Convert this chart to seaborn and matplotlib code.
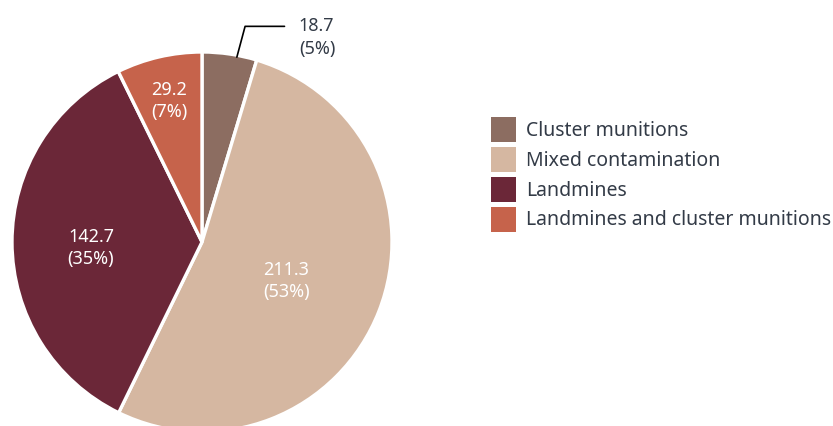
import numpy as np
import matplotlib
matplotlib.use("Agg")
import matplotlib.pyplot as plt
import matplotlib.patches as mpatches
import seaborn as sns

# Data
categories = ["Cluster munitions", "Mixed contamination", "Landmines",
              "Landmines and cluster munitions"]
values = [18.7, 211.3, 142.7, 29.2]
pct_labels = ["5%", "53%", "35%", "7%"]
colors = ["#8c6d61", "#d5b7a1", "#6b2738", "#c6634b"]

sns.set_theme(style="white")
plt.rcParams["font.family"] = ["Noto Sans", "DejaVu Sans"]
text_col = "#333b47"

fig = plt.figure(figsize=(8.33, 4.26), dpi=100)
W, H = 833, 426
cx, cy, r = 202, 242, 190
ax = fig.add_axes([(cx - r) / W, (H - cy - r) / H, 2 * r / W, 2 * r / H])

wedges, _ = ax.pie(values, colors=colors, startangle=90, counterclock=False,
                   radius=1, wedgeprops=dict(edgecolor="white", linewidth=2.4))
ax.set_xlim(-1, 1)
ax.set_ylim(-1, 1)
ax.set_aspect("equal")
ax.axis("off")

# label placement inside the wedges: distance and small angle nudge
label_r = [None, 0.49, 0.585, 0.76]
label_nudge = [-2.3, -3.5, 3.0, 0.0]
for i, w in enumerate(wedges):
    ang = np.deg2rad((w.theta1 + w.theta2) / 2 + label_nudge[i])
    if label_r[i] is None:
        # outside label with a leader line
        x0, y0 = np.cos(ang) * 0.99, np.sin(ang) * 0.99
        ax.annotate(f"{values[i]}", xy=(x0, y0), xytext=(0.51, 1.135),
                    ha="left", va="center", fontsize=13, color=text_col,
                    annotation_clip=False,
                    arrowprops=dict(arrowstyle="-", color="black", lw=1.2,
                                    shrinkA=8, shrinkB=0, relpos=(0, 0.5),
                                    connectionstyle="angle,angleA=0,angleB=75,rad=0"))
        ax.annotate(f"({pct_labels[i]})", xy=(0.51, 1.135), xytext=(0, -23),
                    textcoords="offset pixels", ha="left", va="center",
                    fontsize=13, color=text_col, annotation_clip=False)
    else:
        ax.text(np.cos(ang) * label_r[i], np.sin(ang) * label_r[i],
                f"{values[i]}\n({pct_labels[i]})",
                ha="center", va="center", fontsize=13, color="white",
                linespacing=1.3)

handles = [mpatches.Patch(facecolor=c, edgecolor="none") for c in colors]
leg = fig.legend(handles, categories, loc="upper left",
                 bbox_to_anchor=(491 / W, 1 - 117 / H), frameon=False,
                 fontsize=14, handlelength=1.29, handleheight=1.6,
                 labelspacing=0.25, handletextpad=0.5, borderpad=0,
                 borderaxespad=0)
for t in leg.get_texts():
    t.set_color(text_col)

fig.savefig("out.png", dpi=100)
